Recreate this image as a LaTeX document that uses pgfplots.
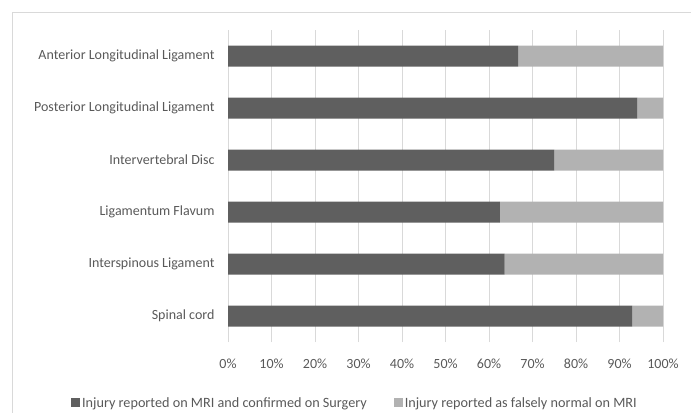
\documentclass[border=0pt]{standalone}
\usepackage{pgfplots}
\pgfplotsset{compat=1.18}
\usepackage{fontspec}
\setmainfont{Carlito}
\definecolor{darkbar}{HTML}{5F5F5F}
\definecolor{lightbar}{HTML}{B2B2B2}
\definecolor{gridc}{HTML}{D9D9D9}
\definecolor{textc}{HTML}{595959}

\begin{document}
\begin{tikzpicture}[x=1bp,y=1bp]
\path[use as bounding box] (0,0) rectangle (691,412);
\draw[gridc, line width=1bp] (12.5,-2) -- (12.5,399) -- (693,399);
\begin{axis}[
  at={(228bp,70bp)}, anchor=south west,
  scale only axis, width=435bp, height=312bp,
  xbar stacked, bar width=21bp,
  xmin=0, xmax=100, ymin=-0.5, ymax=5.5,
  xtick={0,10,...,100},
  xticklabel={\pgfmathprintnumber{\tick}\%},
  ytick={0,...,5},
  yticklabels={Spinal cord, Interspinous Ligament, Ligamentum Flavum, Intervertebral Disc, Posterior Longitudinal Ligament, Anterior Longitudinal Ligament},
  axis line style={draw=none}, major tick length=0pt,
  xmajorgrids, grid style={gridc, line width=0.8bp},
  /pgf/number format/assume math mode=true,
  tick label style={font=\fontsize{14bp}{16bp}\selectfont, text=textc},
  yticklabel style={xshift=-10bp},
  xticklabel style={yshift=-13bp},
  legend style={at={(-0.361,-0.197)}, anchor=west, draw=none, fill=none,
    font=\fontsize{14.2bp}{16bp}\selectfont, text=textc,
    legend columns=2, inner sep=0pt,
    nodes={inner sep=2bp}},
  legend image code/.code={\fill[#1] (0bp,-4bp) rectangle (9bp,5bp);},
]
\addplot[fill=darkbar, draw=none] coordinates {(92.9,0) (63.6,1) (62.5,2) (75.0,3) (94.1,4) (66.7,5)};
\addplot[fill=lightbar, draw=none] coordinates {(7.1,0) (36.4,1) (37.5,2) (25.0,3) (5.9,4) (33.3,5)};
\legend{Injury reported on MRI and confirmed on Surgery\rule{25bp}{0pt}, Injury reported as falsely normal on MRI}
\end{axis}
\end{tikzpicture}
\end{document}
